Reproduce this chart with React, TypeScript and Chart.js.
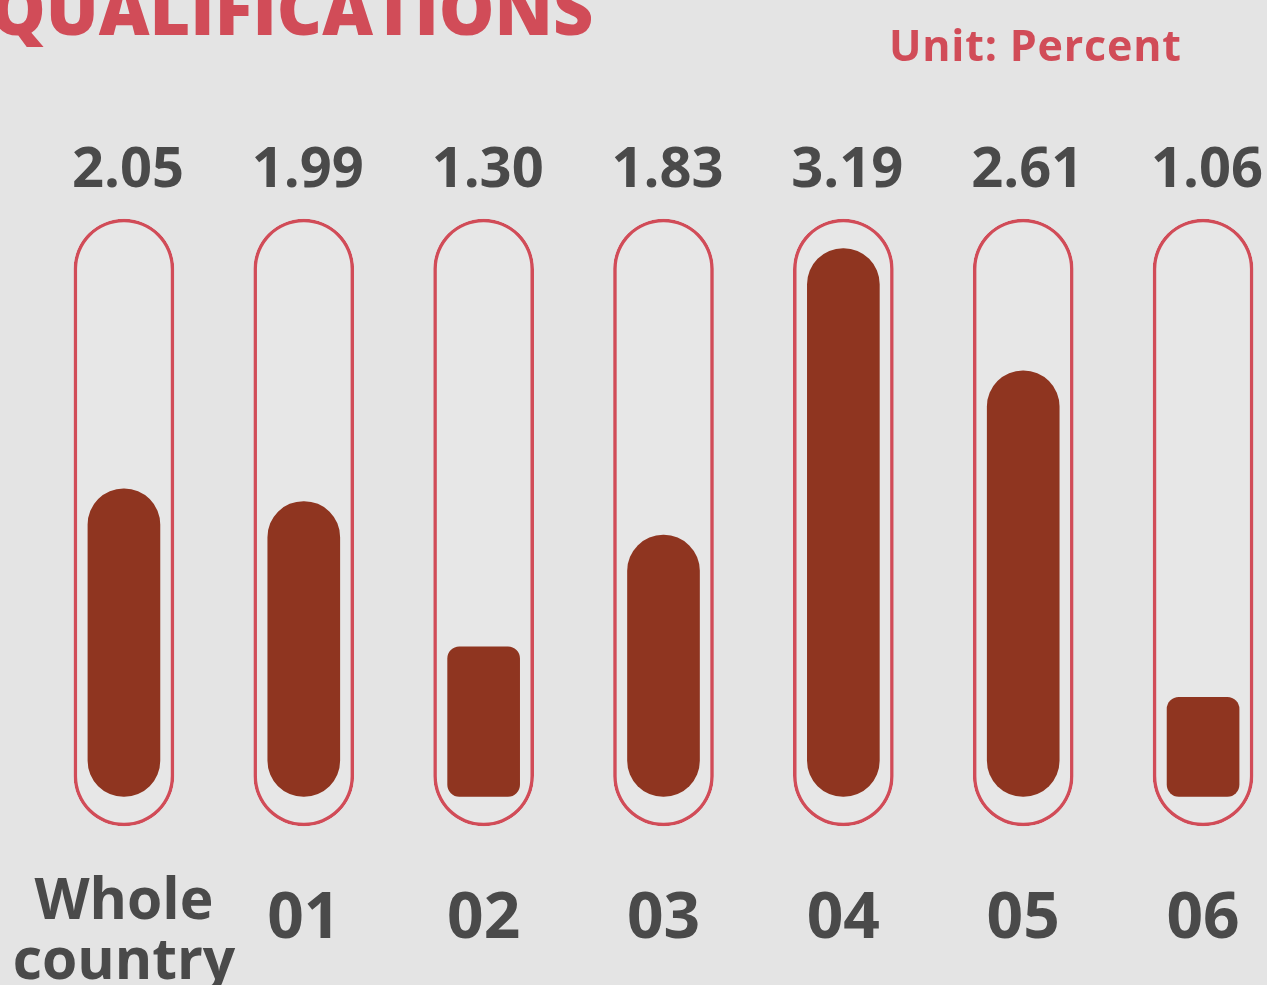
import React, { useEffect, useRef } from 'react';
import { Chart, registerables } from 'chart.js';

Chart.register(...registerables);

// ---- data ----
const categories: (string | string[])[] = [['Whole', 'country'], '01', '02', '03', '04', '05', '06'];
const values: number[] = [2.05, 1.99, 1.30, 1.83, 3.19, 2.61, 1.06];
const valueLabels: string[] = ['2.05', '1.99', '1.30', '1.83', '3.19', '2.61', '1.06'];
const barBase = 0.59;
const tubeLow = 0.45;
const tubeHigh = 3.33;
const TITLE = 'QUALIFICATIONS';
const UNIT = 'Unit: Percent';

// ---- style ----
const FONT = '"Open Sans", "Liberation Sans", sans-serif';
const BG = '#e4e4e4';
const RED = '#d14c58';
const BAR = '#8f3520';
const GRAY = '#4a4a4a';

const textPlugin = {
  id: 'extraTexts',
  afterDraw(chart: any) {
    const ctx = chart.ctx as CanvasRenderingContext2D;
    ctx.save();
    ctx.fillStyle = RED;
    ctx.textAlign = 'left';
    ctx.textBaseline = 'alphabetic';
    ctx.font = `800 70px ${FONT}`;
    ctx.fillText(TITLE, -10, 35);
    ctx.font = `700 43px ${FONT}`;
    (ctx as any).letterSpacing = '0.8px';
    ctx.fillText(UNIT, 889, 61);
    (ctx as any).letterSpacing = '0px';
    const meta = chart.getDatasetMeta(0);
    ctx.fillStyle = GRAY;
    ctx.textAlign = 'center';
    ctx.font = `700 56px ${FONT}`;
    meta.data.forEach((el: any, i: number) => {
      ctx.fillText(valueLabels[i], el.x + 4, 187);
    });
    ctx.restore();
  },
};

export default function App() {
  const ref = useRef<HTMLCanvasElement | null>(null);

  useEffect(() => {
    if (!ref.current) return;
    const chart = new Chart(ref.current, {
      type: 'bar',
      data: {
        labels: categories,
        datasets: [
          {
            label: 'tube',
            data: values.map(() => [tubeLow, tubeHigh]) as any,
            backgroundColor: '#e7e7e7',
            borderColor: RED,
            borderWidth: 3.5,
            borderRadius: 60,
            borderSkipped: false,
            barThickness: 100,
            grouped: false,
            order: 2,
          },
          {
            label: 'value',
            data: values.map((v) => [barBase, v]) as any,
            backgroundColor: BAR,
            borderWidth: 0,
            borderRadius: (ctx: any) => {
              const v = values[ctx.dataIndex];
              return v < 1.5 ? 12 : 36;
            },
            borderSkipped: false,
            barThickness: 72,
            grouped: false,
            order: 1,
          },
        ],
      },
      options: {
        responsive: false,
        animation: false,
        devicePixelRatio: 1,
        layout: { padding: { left: 34, right: 0, top: 216, bottom: 0 } },
        plugins: {
          legend: { display: false },
          tooltip: { enabled: false },
          title: { display: false },
        },
        scales: {
          x: {
            grid: { display: false, drawTicks: false },
            border: { display: false },
            afterFit: (scale: any) => {
              scale.paddingLeft = 0;
              scale.paddingRight = 0;
            },
            ticks: {
              padding: 75,
              color: GRAY,
              crossAlign: 'center',
              maxRotation: 0,
              autoSkip: false,
              font: (ctx: any) =>
                ctx.index === 0
                  ? { family: FONT, size: 57, weight: '700', lineHeight: '60px' }
                  : { family: FONT, size: 64, weight: '700', lineHeight: '86px' },
            },
          },
          y: {
            display: false,
            min: 0.44,
            max: 3.345,
          },
        },
      },
      plugins: [textPlugin],
    });
    return () => chart.destroy();
  }, []);

  return (
    <div
      style={{
        position: 'fixed',
        left: 0,
        top: 0,
        width: 1267,
        height: 985,
        overflow: 'hidden',
        background: BG,
      }}
    >
      <canvas
        ref={ref}
        width={1293}
        height={1098}
        style={{ position: 'absolute', left: 0, top: 0, width: 1293, height: 1098 }}
      />
    </div>
  );
}
